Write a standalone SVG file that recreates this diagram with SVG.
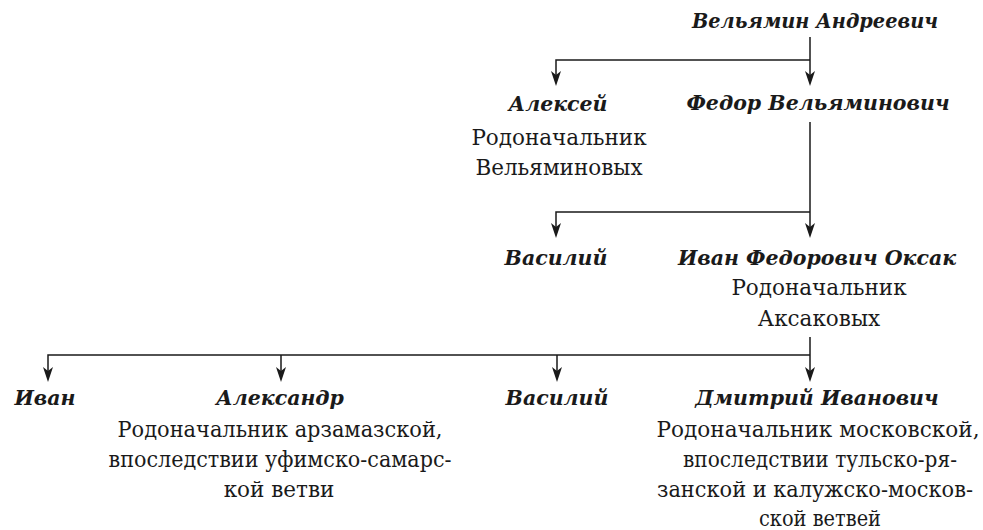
<svg xmlns="http://www.w3.org/2000/svg" width="983" height="530" viewBox="0 0 983 530">
<style>
.n{font-family:"DejaVu Serif",serif;font-size:20.5px;font-weight:bold;font-style:italic;fill:#1a1a1a;text-anchor:middle}
.d{font-family:"DejaVu Serif",serif;font-size:21.5px;fill:#1a1a1a;text-anchor:middle}
.c{fill:none;stroke:#1a1a1a;stroke-width:1.5}
</style>
<defs>
<path id="arr" d="M-5,-15 L0,-11 L5,-15 L0,0 Z" fill="#1a1a1a"/>
</defs>
<g id="connectors">
<path class="c" d="M810,37 V78 M810,60 H556 V78"/>
<use href="#arr" x="810" y="86"/>
<use href="#arr" x="556" y="86"/>
<path class="c" d="M810,122 V230 M810,212 H556 V230"/>
<use href="#arr" x="810" y="238"/>
<use href="#arr" x="556" y="238"/>
<path class="c" d="M810,337 V374 M810,355 H48 V374 M281,355 V374 M557,355 V374"/>
<use href="#arr" x="810" y="382"/>
<use href="#arr" x="48" y="382"/>
<use href="#arr" x="281" y="382"/>
<use href="#arr" x="557" y="382"/>
</g>
<g id="n-velyamin"><text class="n" x="815" y="28" textLength="246" lengthAdjust="spacingAndGlyphs">Вельямин Андреевич</text></g>
<g id="n-aleksey"><text class="n" x="558" y="111">Алексей</text><text class="d" x="559" y="145">Родоначальник</text><text class="d" x="559" y="175">Вельяминовых</text></g>
<g id="n-fedor"><text class="n" x="818" y="110">Федор Вельяминович</text></g>
<g id="n-vasiliy1"><text class="n" x="556" y="265">Василий</text></g>
<g id="n-ivan-oksak"><text class="n" x="817" y="265">Иван Федорович Оксак</text><text class="d" x="819" y="295">Родоначальник</text><text class="d" x="819" y="326">Аксаковых</text></g>
<g id="n-ivan"><text class="n" x="45" y="405">Иван</text></g>
<g id="n-aleksandr"><text class="n" x="280" y="405">Александр</text><text class="d" x="280" y="437" textLength="325" lengthAdjust="spacingAndGlyphs">Родоначальник арзамазской,</text><text class="d" x="280" y="467" textLength="343" lengthAdjust="spacingAndGlyphs">впоследствии уфимско-самарс-</text><text class="d" x="279" y="497">кой ветви</text></g>
<g id="n-vasiliy2"><text class="n" x="557" y="405">Василий</text></g>
<g id="n-dmitriy"><text class="n" x="817" y="405">Дмитрий Иванович</text><text class="d" x="818" y="437" textLength="323" lengthAdjust="spacingAndGlyphs">Родоначальник московской,</text><text class="d" x="820" y="467" textLength="274" lengthAdjust="spacingAndGlyphs">впоследствии тульско-ря-</text><text class="d" x="815" y="497" textLength="316" lengthAdjust="spacingAndGlyphs">занской и калужско-москов-</text><text class="d" x="820" y="526" textLength="122" lengthAdjust="spacingAndGlyphs">ской ветвей</text></g>
</svg>
